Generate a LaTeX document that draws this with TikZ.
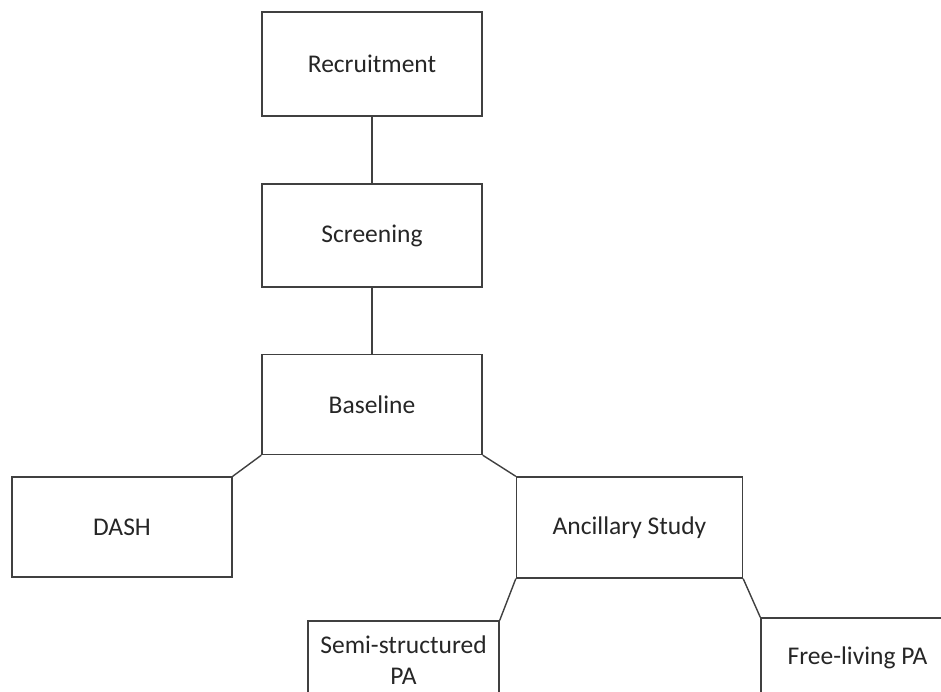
\documentclass[tikz,border=0pt]{standalone}
\usepackage{fontspec}
\setmainfont{Carlito}
\usepackage{xcolor}
\usepackage{tikz}

\definecolor{boxline}{HTML}{404040}
\definecolor{boxtext}{HTML}{262626}

\begin{document}
\begin{tikzpicture}[x=1pt,y=-1pt]
        % Redefine some styles
        \tikzstyle{stage} = [rectangle,draw=boxline,line width=1.4pt,text=boxtext,
        inner sep=2pt, minimum width=220pt, minimum height=104pt,
        align=center, font=\fontsize{25.5}{31}\selectfont]
        \tikzstyle{link} = [draw=boxline,line width=1.4pt]

        % Frame
        \path[use as bounding box,fill=white] (0,0) rectangle (941,691);
        \clip (0,0) rectangle (941,691);

        % Nodes
        \node (recruit)   [stage]                                          at (372,64)      {Recruitment};
        \node (screen)    [stage, minimum height=103pt]                    at (372,235.5)   {Screening};
        \node (baseline)  [stage, minimum height=100pt]                    at (372,404.5)   {Baseline};
        \node (dash)      [stage, minimum height=100pt]                    at (122,527)     {DASH};
        \node (ancillary) [stage, minimum width=226pt, minimum height=101pt] at (629.5,527.5) {Ancillary Study};
        \node (semi)      [stage, minimum width=191pt, minimum height=78pt]  at (403.5,660)   {Semi-structured\\PA};
        \node (free)      [stage, minimum width=193pt, minimum height=80pt]  at (857.5,658)   {Free-living PA};

        % Edges
        \draw[link] (recruit.south)        -- (screen.north);
        \draw[link] (screen.south)         -- (baseline.north);
        \draw[link] (baseline.south west)  -- (dash.north east);
        \draw[link] (baseline.south east)  -- (ancillary.north west);
        \draw[link] (ancillary.south west) -- (semi.north east);
        \draw[link] (ancillary.south east) -- (free.north west);

    \end{tikzpicture}
\end{document}
